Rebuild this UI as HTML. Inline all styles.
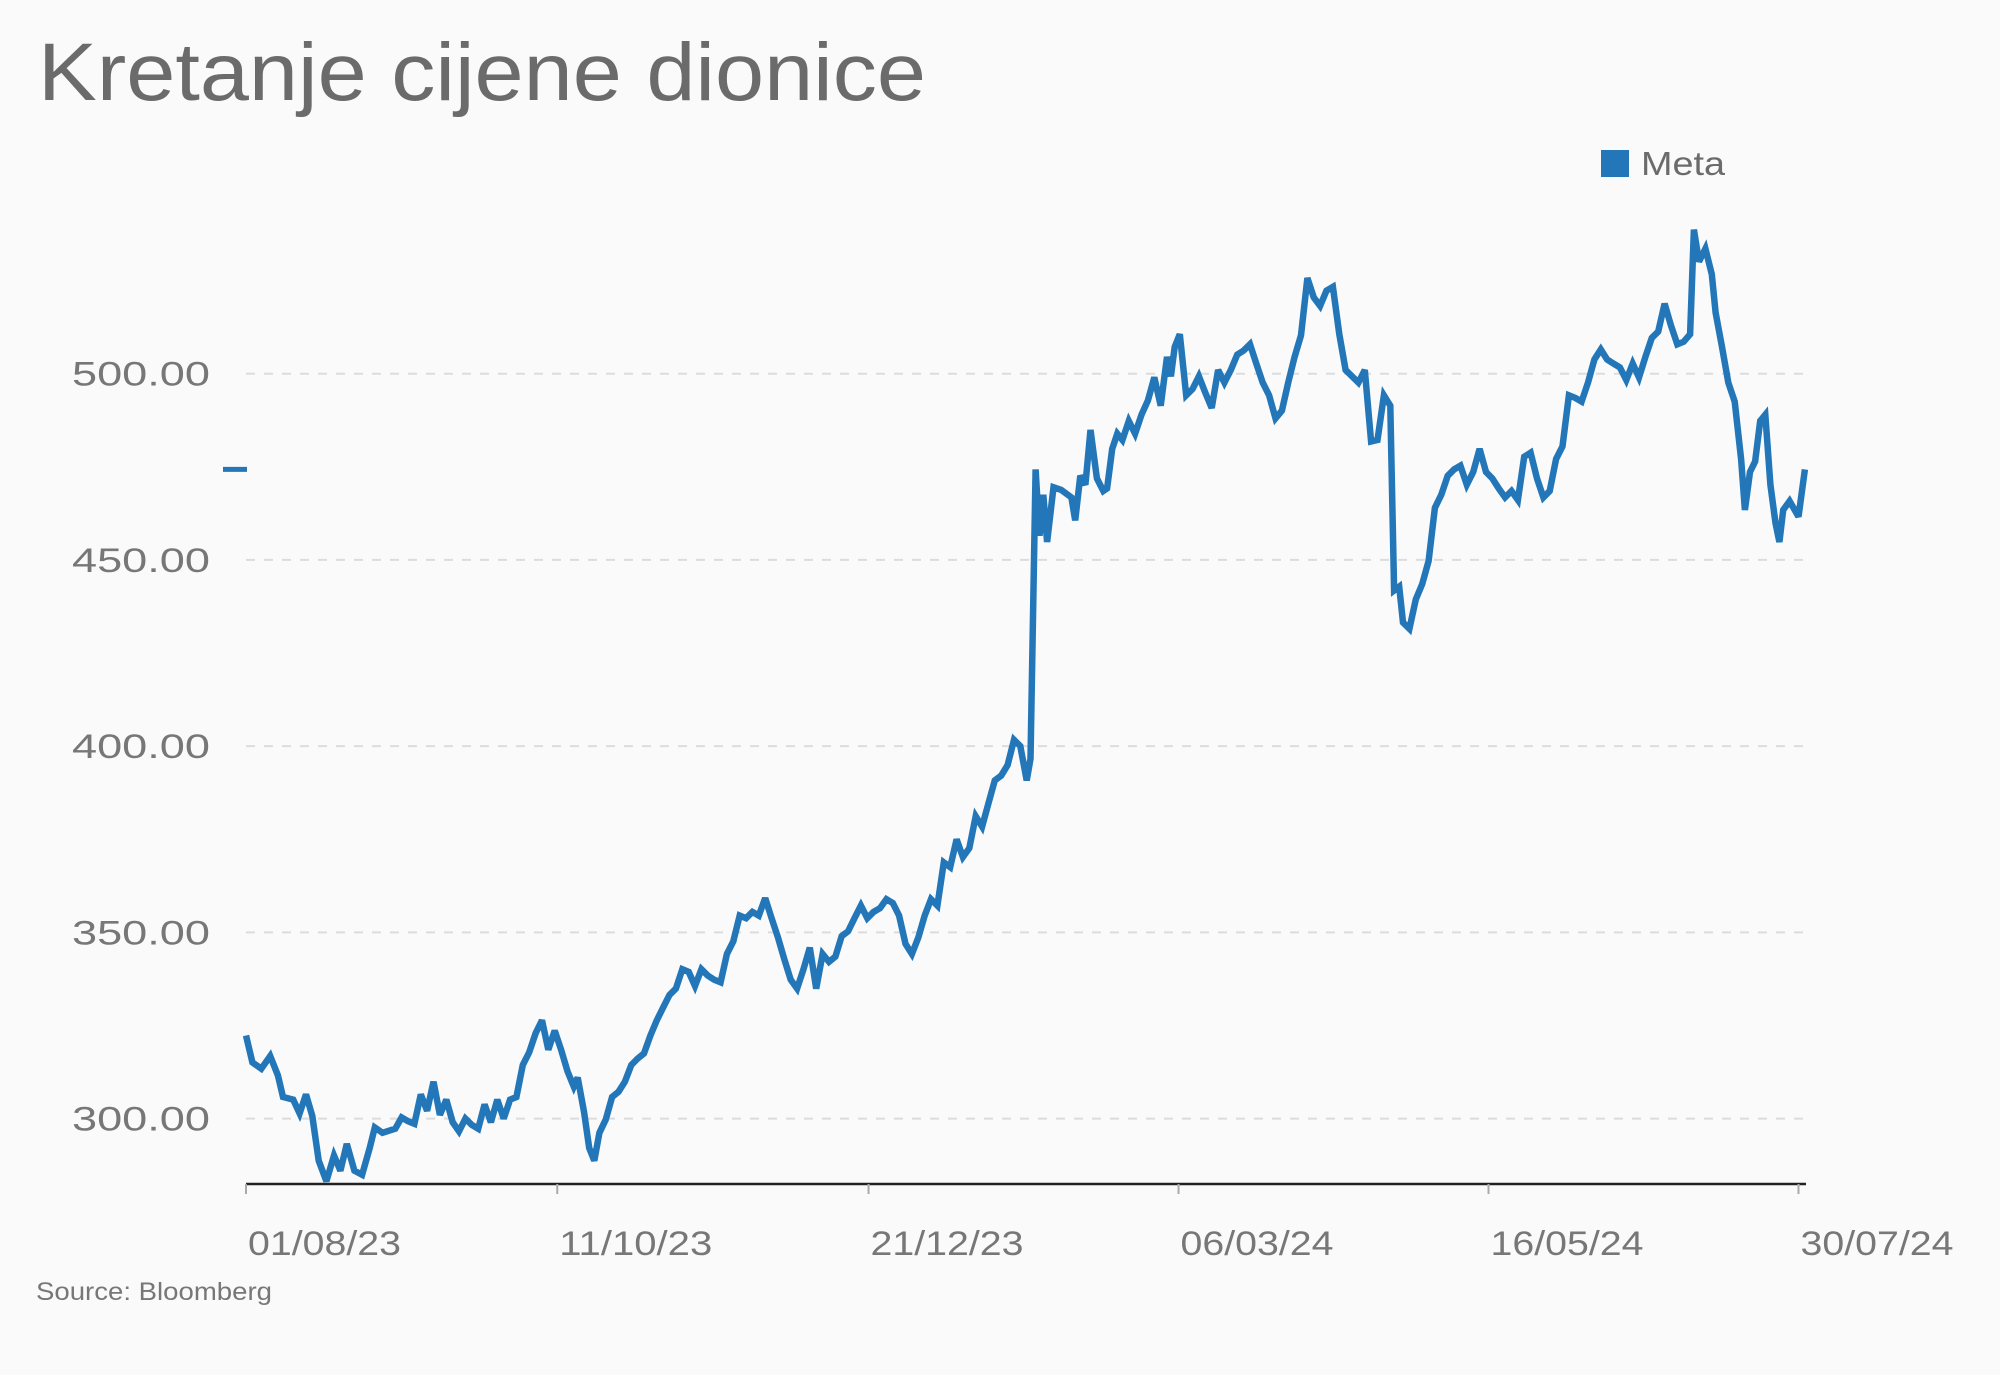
<!DOCTYPE html>
<html><head><meta charset="utf-8"><style>
html,body{margin:0;padding:0;background:#fafafa;}
svg{display:block;font-family:"Liberation Sans",sans-serif;}
</style></head><body>
<svg width="2000" height="1375" viewBox="0 0 2000 1375">
<rect width="2000" height="1375" fill="#fafafa"/>
<text x="38" y="100" font-size="82" fill="#6b6b6b" textLength="888" lengthAdjust="spacingAndGlyphs">Kretanje cijene dionice</text>
<rect x="1601" y="150" width="28" height="27" fill="#2377b8"/>
<text x="1641" y="175" font-size="33" fill="#6b6b6b" textLength="84" lengthAdjust="spacingAndGlyphs">Meta</text>
<g id="grid"></g><g id="yl"></g><g id="xa"></g><g id="ln"></g>
<text x="36" y="1300" font-size="25" fill="#777" textLength="236" lengthAdjust="spacingAndGlyphs">Source: Bloomberg</text>
</svg>
<script>
const yTicks=[300,350,400,450,500];
const yTickLabels=["300.00","350.00","400.00","450.00","500.00"];
const xTickDays=[0,73.2,146.4,219.3,292.2,365.1];
const xTickLabels=["01/08/23","11/10/23","21/12/23","06/03/24","16/05/24","30/07/24"];
const lastMarkerValue=474.3;
const days=[0,1.5,3.6,5.7,7.5,8.7,11.1,12.6,14.1,15.6,17.1,18.9,20.7,22.2,23.7,25.5,27.3,29.1,30.3,32.1,35.1,36.6,38.1,39.6,41.1,42.6,44.1,45.6,47.1,48.6,50.1,51.6,53.1,54.6,56.1,57.6,59.1,60.6,62.1,63.6,65.1,66.6,68.1,69.6,71.1,72.6,74.1,75.6,77.1,78,79.5,80.7,81.9,83.1,84.6,
86.1,87.6,89.1,90.6,92.1,93.6,95.1,96.6,98.1,99.6,101.1,102.6,104.1,105.6,107.1,108.6,110.1,111.6,113.1,114.6,116.1,117.6,119.1,120.6,122.1,123.6,125.1,126.6,128.1,129.6,131.1,132.6,134.1,135.6,137.1,138.6,140.1,141.6,143.1,144.6,146.1,147.6,149.1,150.6,152.1,153.6,155.1,156.6,158.1,159.6,161.1,162.6,164.1,165.6,167.1,168.6,170.1,171.6,173.1,174.6,176.1,177.6,179.1,180.6,182.1,183.6,
184.5,185.7,186.6,187.5,188.4,189.9,191.7,194.1,195,196.2,197.4,198.6,200.1,201.6,202.5,203.7,204.9,206.1,207.6,209.1,210.6,212.1,213.6,215.1,216.6,217.5,218.4,219.6,221.1,
222.6,224.1,225.6,227.1,228.6,230.1,231.6,233.1,234.6,236.1,237.6,239.1,240.6,242.1,243.6,245.1,246.6,248.1,249.6,251.1,252.6,254.1,255.6,257.1,258.6,260.1,261.6,263.1,264.6,266.1,267.6,269.1,
270,271.2,272.1,273.6,275.1,276.6,278.1,279.6,281.1,282.6,284.1,285.6,287.1,288.6,290.1,291.6,293.1,294.6,296.1,297.6,299.1,300.6,302.1,303.6,305.1,306.6,308.1,309.6,311.1,312.6,314.1,315.6,317.1,318.6,320.1,321.6,323.1,324.6,326.1,327.6,329.1,330.6,332.1,333.6,335.1,336.6,338.1,339.6,
340.5,341.7,343.2,344.7,345.6,347.1,348.6,350.1,351.6,352.5,353.7,354.9,356.1,357.3,358.5,359.7,360.6,361.5,363,364.2,365.1,366.6];
const prices=[322.3,315.1,313.4,316.8,311.6,305.8,305.1,301.4,306.5,300.7,288.7,283.2,290.1,286,293.2,286,284.9,292.1,297.6,296.2,297.3,300.3,299.3,298.6,306.5,302.1,309.9,301,305.1,299,296.6,300,298.3,297.3,303.8,299,305.1,300,305.1,305.8,314.4,317.8,322.9,326.4,318.5,323.6,318.5,312.7,308.6,311,301.7,292.1,288.7,296.2,299.7,
305.8,307.2,309.9,314.4,316.1,317.5,322.3,326.4,329.8,333.2,334.9,340.1,339.4,335.6,340.1,338.4,337.3,336.6,344.2,347.6,354.5,353.8,355.5,354.5,359.2,353.8,348.6,342.8,337.3,334.9,340.1,345.9,334.9,344.2,342.1,343.5,349,350.3,353.8,357.2,353.8,355.5,356.5,358.9,357.9,354.5,346.9,344.2,348.6,354.5,358.9,357.2,368.8,367.5,375,370.2,372.6,381.2,378.4,384.6,390.8,392.1,394.9,401.7,400,390.8,
396.6,474.3,456.5,467.5,454.8,469.5,468.8,466.8,460.6,472.6,470.2,484.9,471.9,468.5,469.2,479.8,483.9,482.2,487.3,483.9,489,492.8,499,491.4,504.5,499.3,507.2,510.6,494.2,
495.9,499.3,494.9,490.8,501,497.6,501,505.1,506.2,507.9,502.7,497.6,494.2,488,490.1,497.6,504.5,510.3,525.7,520.5,518.2,522.3,523.3,510.6,501,499.3,497.6,501,481.8,482.2,494.2,491.4,
441.8,442.8,433.2,431.5,439.4,443.5,449.7,464,467.5,472.6,474.3,475.3,470.2,473.6,479.8,473.6,471.9,469.2,466.8,468.5,466.1,477.7,478.8,471.9,466.8,468.5,477.1,480.5,494.2,493.5,492.5,497.6,503.8,506.5,503.8,502.7,501.7,498.3,502.7,499,504.5,509.6,511.3,518.8,513,507.9,508.6,510.6,
538.7,530.1,533.6,526.7,516.4,507.2,497.6,492.5,477.1,463.4,473.6,476.4,487.3,489,470.2,459.9,454.8,463.4,465.8,463.4,461.6,474.3];

const NS="http://www.w3.org/2000/svg";
const X0=246,X1=1798.5,DMAX=365.1,YTOP=373.7,YBOT=1118.6;
function xs(d){return X0+d*(X1-X0)/DMAX;}
function ys(v){return YTOP+(500-v)*(YBOT-YTOP)/200;}
function mk(tag,attrs,parent){const e=document.createElementNS(NS,tag);for(const k in attrs)e.setAttribute(k,attrs[k]);parent.appendChild(e);return e;}
const grid=document.getElementById('grid'),yl=document.getElementById('yl'),xa=document.getElementById('xa'),ln=document.getElementById('ln');
yTicks.forEach((v,i)=>{
  const g=mk('line',{x1:246,x2:1809,y1:ys(v),y2:ys(v),stroke:'#dcdcdc','stroke-width':2,'stroke-dasharray':'9 9'},grid);
  
  
  const t=mk('text',{x:210,y:ys(v)+12,'text-anchor':'end','font-size':34,fill:'#777',textLength:138,lengthAdjust:'spacingAndGlyphs'},yl);
  t.textContent=yTickLabels[i];
  
  
});
const ax=mk('line',{x1:246,x2:1806,y1:1184,y2:1184,stroke:'#222','stroke-width':2.5},xa);


xTickDays.forEach((d,i)=>{
  const tk=mk('line',{x1:xs(d),x2:xs(d),y1:1184,y2:1194,stroke:'#aaa','stroke-width':2},xa);
  
  
  const t=mk('text',{x:xs(d)+2,y:1255,'font-size':34,fill:'#777',textLength:153,lengthAdjust:'spacingAndGlyphs'},xa);
  t.textContent=xTickLabels[i];
  
  
});
const mkr=mk('line',{x1:223,x2:247,y1:ys(lastMarkerValue),y2:ys(lastMarkerValue),stroke:'#2377b8','stroke-width':5},ln);


let dstr='';
for(let i=0;i<prices.length;i++){dstr+=(i?'L':'M')+xs(days[i]).toFixed(1)+' '+ys(prices[i]).toFixed(1);}
const p=mk('path',{d:dstr,fill:'none',stroke:'#2377b8','stroke-width':6.5,'stroke-linejoin':'miter','stroke-miterlimit':3},ln);


</script>
</body></html>
